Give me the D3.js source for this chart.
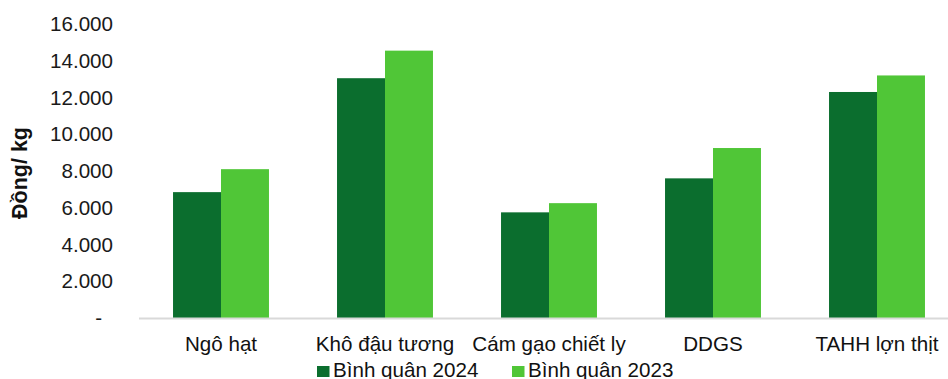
<!DOCTYPE html>
<html>
<head>
<meta charset="utf-8">
<script src="https://cdn.jsdelivr.net/npm/d3@7"></script>
<style>
  html, body { margin: 0; padding: 0; background: #fff; }
  svg { display: block; font-family: "Liberation Sans", Arial, sans-serif; }
</style>
</head>
<body>
<svg id="chart" width="948" height="379"></svg>
<script>
// Feed ingredient prices, VND per kg
const categories = ["Ngô hạt", "Khô đậu tương", "Cám gạo chiết ly", "DDGS", "TAHH lợn thịt"];
const seriesNames = ["Bình quân 2024", "Bình quân 2023"];
const avg2024 = [6850, 13050, 5750, 7600, 12300];
const avg2023 = [8100, 14550, 6250, 9250, 13200];
const yTicks = [0, 2000, 4000, 6000, 8000, 10000, 12000, 14000, 16000];
const colors = ["#0b6e2e", "#50c637"];

const FONT = 20.6;
const svg = d3.select("#chart");
const plot = { left: 139, right: 959, top: 24, bottom: 318 };

const x = d3.scaleBand()
  .domain(categories)
  .range([plot.left, plot.right])
  .paddingInner(0.415)
  .paddingOuter(0.2075);

const xSub = d3.scaleBand()
  .domain(seriesNames)
  .range([0, x.bandwidth()]);

const y = d3.scaleLinear()
  .domain([0, 16000])
  .range([plot.bottom, plot.top]);

const fmt = v => v === 0 ? "-" : d3.format(",")(v).replace(/,/g, ".");

// Y axis (labels only)
const yAxis = svg.append("g")
  .attr("transform", `translate(113,0)`)
  .call(d3.axisLeft(y).tickValues(yTicks).tickFormat(fmt).tickSize(0).tickPadding(0));
yAxis.select(".domain").remove();
yAxis.selectAll("text")
  .attr("font-size", FONT)
  .attr("fill", "#1a1a1a")
  .attr("font-family", "Liberation Sans, Arial, sans-serif")
  .attr("dx", d => d === 0 ? -11 : 0);

// Y axis title
svg.append("text")
  .attr("transform", "translate(27,173) rotate(-90)")
  .attr("text-anchor", "middle")
  .attr("font-size", 21.5)
  .attr("font-weight", "bold")
  .attr("fill", "#111")
  .text("Đồng/ kg");

// Bars
const rows = categories.map((c, i) => ({ cat: c, vals: [avg2024[i], avg2023[i]] }));
const groups = svg.append("g").selectAll("g")
  .data(rows)
  .join("g")
  .attr("transform", d => `translate(${x(d.cat)},0)`);

groups.selectAll("rect")
  .data(d => d.vals.map((v, j) => ({ name: seriesNames[j], v, j })))
  .join("rect")
  .attr("x", d => xSub(d.name))
  .attr("width", xSub.bandwidth())
  .attr("y", d => y(d.v))
  .attr("height", d => y(0) - y(d.v))
  .attr("fill", d => colors[d.j]);

// Baseline
svg.append("line")
  .attr("x1", plot.left).attr("x2", 948)
  .attr("y1", y(0) + 0.5).attr("y2", y(0) + 0.5)
  .attr("stroke", "#d9d9d9")
  .attr("stroke-width", 2);

// Category labels
const xAxis = svg.append("g")
  .attr("transform", `translate(0,${plot.bottom})`)
  .call(d3.axisBottom(x).tickSize(0).tickPadding(0));
xAxis.select(".domain").remove();
xAxis.selectAll("text")
  .attr("font-size", FONT)
  .attr("fill", "#111")
  .attr("font-family", "Liberation Sans, Arial, sans-serif")
  .attr("dy", null)
  .attr("y", 33);

// Legend
const legendX = [317, 512];
const legend = svg.append("g").selectAll("g")
  .data(seriesNames)
  .join("g")
  .attr("transform", (d, i) => `translate(${legendX[i]},366)`);
legend.append("rect")
  .attr("width", 12.5).attr("height", 11)
  .attr("fill", (d, i) => colors[i]);
legend.append("text")
  .attr("x", 16).attr("y", 10.5)
  .attr("font-size", FONT)
  .attr("fill", "#111")
  .text(d => d);
</script>
</body>
</html>
